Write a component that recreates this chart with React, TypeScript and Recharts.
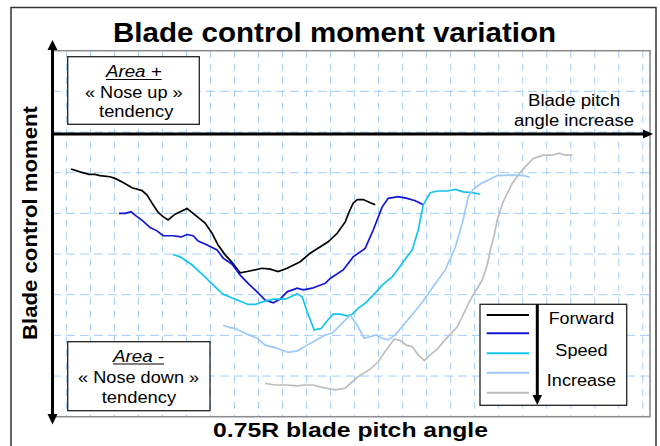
import { LineChart, Line, XAxis, YAxis, CartesianGrid } from 'recharts';

// curves: pitch in grid steps, moment in grid rows (0 = pitch axis)
const pitchV1 = [1.38, 2.13, 2.88, 3.38, 3.8, 4.63, 5.05, 5.72, 6.47, 7.3, 7.72, 8.22, 8.63, 9.05, 9.47, 10.05, 11.05, 11.55, 12.55, 13.13, 13.63, 14.22, 14.63, 15.47, 16.05, 17.3, 17.97, 18.63, 19.38, 20.47, 21.3, 22.8, 23.55, 24.22, 24.55, 24.88, 25.22, 25.72, 26.3, 26.72];
const momentV1 = [-0.91, -0.98, -1.04, -1.04, -1.07, -1.1, -1.14, -1.24, -1.37, -1.44, -1.55, -1.79, -1.97, -2.08, -2.16, -2.02, -1.88, -2.0, -2.24, -2.49, -2.78, -3.02, -3.15, -3.46, -3.43, -3.35, -3.37, -3.43, -3.35, -3.19, -2.98, -2.7, -2.49, -2.21, -1.96, -1.75, -1.66, -1.66, -1.74, -1.79];

const pitchV2 = [5.38, 5.88, 6.38, 6.8, 7.38, 7.97, 8.55, 9.05, 9.88, 10.55, 11.05, 11.55, 11.97, 12.72, 13.55, 14.05, 14.8, 15.47, 16.13, 16.88, 17.55, 18.22, 18.8, 19.38, 20.22, 20.72, 21.47, 22.55, 22.97, 24.05, 24.88, 25.88, 26.55, 27.3, 27.8, 28.63, 29.38, 30.05, 30.72];
const momentV2 = [-2.0, -2.0, -1.96, -2.06, -2.19, -2.35, -2.43, -2.55, -2.55, -2.58, -2.52, -2.55, -2.68, -2.78, -2.9, -3.1, -3.25, -3.52, -3.72, -3.93, -4.13, -4.2, -4.11, -3.93, -3.84, -3.88, -3.84, -3.72, -3.6, -3.39, -3.07, -2.86, -2.41, -1.84, -1.63, -1.59, -1.63, -1.69, -1.79];

const pitchV3 = [9.88, 10.47, 11.47, 12.38, 13.22, 14.05, 15.22, 16.13, 16.72, 17.38, 18.22, 19.22, 20.22, 20.63, 21.05, 21.63, 22.22, 22.72, 23.22, 23.8, 24.38, 24.8, 25.3, 25.88, 26.55, 27.38, 28.13, 28.63, 29.22, 29.8, 30.3, 30.72, 31.3, 31.88, 32.72, 33.38, 34.05, 34.8, 35.47];
const momentV3 = [-3.01, -3.07, -3.27, -3.52, -3.76, -3.99, -4.13, -4.24, -4.24, -4.17, -4.11, -4.11, -3.98, -4.05, -4.42, -4.87, -4.83, -4.64, -4.48, -4.48, -4.52, -4.48, -4.33, -4.21, -4.01, -3.74, -3.56, -3.37, -3.12, -2.9, -2.41, -1.79, -1.49, -1.45, -1.45, -1.41, -1.47, -1.49, -1.53];

const pitchV4 = [14.05, 14.63, 15.05, 16.05, 16.88, 17.55, 18.38, 19.47, 20.22, 21.05, 21.88, 22.55, 23.13, 23.8, 24.63, 25.22, 25.8, 26.3, 26.8, 27.3, 27.8, 28.38, 29.05, 29.88, 30.72, 31.55, 32.55, 33.38, 33.97, 34.47, 34.88, 35.47, 36.05, 36.88, 38.22, 39.05, 39.55];
const momentV4 = [-4.75, -4.81, -4.83, -4.97, -5.07, -5.24, -5.3, -5.42, -5.38, -5.24, -5.1, -4.99, -4.95, -4.75, -4.5, -4.75, -5.07, -5.03, -4.99, -5.07, -5.11, -4.99, -4.75, -4.46, -4.15, -3.8, -3.39, -2.84, -2.24, -1.59, -1.41, -1.28, -1.19, -1.07, -1.06, -1.07, -1.11];

const pitchV5 = [17.55, 18.38, 19.38, 20.22, 20.88, 21.55, 22.47, 23.38, 24.22, 25.22, 26.3, 26.97, 27.72, 28.3, 28.8, 29.3, 29.8, 30.3, 30.8, 31.3, 31.88, 32.38, 33.55, 34.63, 35.63, 36.05, 36.3, 36.63, 36.88, 37.38, 38.13, 38.97, 39.88, 40.72, 41.47, 42.05, 42.55, 43.13];
const momentV5 = [-6.18, -6.22, -6.22, -6.24, -6.22, -6.22, -6.29, -6.34, -6.3, -6.03, -5.83, -5.65, -5.32, -5.09, -5.13, -5.24, -5.28, -5.48, -5.62, -5.48, -5.34, -5.16, -4.79, -4.13, -3.64, -3.27, -2.9, -2.53, -2.16, -1.71, -1.26, -0.93, -0.65, -0.57, -0.57, -0.52, -0.57, -0.57];

const seriesColors = ['#000000', '#1414d4', '#14c4f0', '#9ccaf8', '#bdbdbd'];
const legendWords = ['Forward', 'Speed', 'Increase'];

const xTicks = Array.from({ length: 50 }, (_, i) => i);
const yTicks = [-7, -6, -5, -4, -3, -2, -1, 0, 1, 2];

const FONT = '"Liberation Sans", Arial, sans-serif';

function zip(p: number[], m: number[]) {
  return p.map((x, i) => ({ pitch: x, moment: m[i] }));
}

const series = [
  zip(pitchV1, momentV1),
  zip(pitchV2, momentV2),
  zip(pitchV3, momentV3),
  zip(pitchV4, momentV4),
  zip(pitchV5, momentV5),
];

function Overlay() {
  const legendY = [315, 333.3, 353.3, 372.7, 392.7];
  const wordY = [324.3, 355.5, 385.7];
  const wordLen = [65.7, 52.3, 69.3];
  return (
    <svg
      width={660}
      height={446}
      style={{ position: 'absolute', left: 0, top: 0, pointerEvents: 'none' }}
      fontFamily={FONT}
    >
      <rect x={11} y={7.5} width={645} height={450} fill="none" stroke="#333" strokeWidth={1.5} />
      <text x={334.5} y={41.5} textAnchor="middle" fontSize={28} fontWeight="bold" textLength={443} lengthAdjust="spacingAndGlyphs">
        Blade control moment variation
      </text>
      <rect x={52} y={50.7} width={598} height={366} fill="none" stroke="#8c8c8c" strokeWidth={1.5} />

      {/* axes arrows */}
      <line x1={52.5} y1={48} x2={52.5} y2={416} stroke="#000" strokeWidth={3} />
      <polygon points="52.5,40 47.5,50 57.5,50" fill="#000" />
      <polygon points="52.5,424.5 47.5,414 57.5,414" fill="#000" />
      <line x1={52} y1={134} x2={645} y2={134} stroke="#000" strokeWidth={3} />
      <polygon points="653,134 643,129.5 643,138.5" fill="#000" />

      <text transform="translate(36.5,223) rotate(-90)" textAnchor="middle" fontSize={21} fontWeight="bold" textLength={234} lengthAdjust="spacingAndGlyphs">
        Blade control moment
      </text>
      <text x={350.5} y={436.7} textAnchor="middle" fontSize={21} fontWeight="bold" textLength={275} lengthAdjust="spacingAndGlyphs">
        0.75R blade pitch angle
      </text>

      <text x={574} y={106} textAnchor="middle" fontSize={16} textLength={92} lengthAdjust="spacingAndGlyphs">Blade pitch</text>
      <text x={574} y={125.7} textAnchor="middle" fontSize={16} textLength={120} lengthAdjust="spacingAndGlyphs">angle increase</text>

      {/* area + */}
      <rect x={67.7} y={56.7} width={131.6} height={67.6} fill="#fff" stroke="#222" strokeWidth={1.3} />
      <text x={133.8} y={77.3} textAnchor="middle" fontSize={16} fontStyle="italic" textLength={55.7} lengthAdjust="spacingAndGlyphs">Area +</text>
      <line x1={106} y1={79.5} x2={161.7} y2={79.5} stroke="#000" strokeWidth={1} />
      <text x={133.8} y={97.7} textAnchor="middle" fontSize={16} textLength={97.7} lengthAdjust="spacingAndGlyphs">« Nose up »</text>
      <text x={136.2} y={117.3} textAnchor="middle" fontSize={16} textLength={74.3} lengthAdjust="spacingAndGlyphs">tendency</text>

      {/* area - */}
      <rect x={67.7} y={341.7} width={142.3} height={69} fill="#fff" stroke="#222" strokeWidth={1.3} />
      <text x={138.5} y={361.7} textAnchor="middle" fontSize={16} fontStyle="italic" textLength={51} lengthAdjust="spacingAndGlyphs">Area -</text>
      <line x1={113} y1={364} x2={164} y2={364} stroke="#000" strokeWidth={1} />
      <text x={138.6} y={383} textAnchor="middle" fontSize={16} textLength={121} lengthAdjust="spacingAndGlyphs">« Nose down »</text>
      <text x={138.9} y={402.7} textAnchor="middle" fontSize={16} textLength={74.3} lengthAdjust="spacingAndGlyphs">tendency</text>

      {/* legend */}
      <rect x={480} y={304.3} width={146.7} height={101} fill="#fff" stroke="#222" strokeWidth={1.3} />
      {seriesColors.map((c, i) => (
        <line key={c} x1={486.7} y1={legendY[i]} x2={529} y2={legendY[i]} stroke={c} strokeWidth={2} />
      ))}
      <line x1={537.3} y1={304.3} x2={537.3} y2={397} stroke="#000" strokeWidth={3} />
      <polygon points="537.3,405 532.5,395 542,395" fill="#000" />
      {legendWords.map((w, i) => (
        <text key={w} x={581.5} y={wordY[i]} textAnchor="middle" fontSize={16} textLength={wordLen[i]} lengthAdjust="spacingAndGlyphs">
          {w}
        </text>
      ))}
    </svg>
  );
}

export default function App() {
  return (
    <div style={{ position: 'absolute', left: 0, top: 0, width: 660, height: 446, background: '#fff' }}>
      <LineChart width={660} height={446} margin={{ top: 50.7, right: 10, bottom: 29.3, left: 52 }}>
        <CartesianGrid horizontal={false} stroke="#a3cdf7" strokeDasharray="7 6" />
        <CartesianGrid vertical={false} stroke="#a3cdf7" strokeDasharray="9 5" />
        <XAxis type="number" dataKey="pitch" domain={[-0.2, 49.6]} ticks={xTicks} allowDataOverflow hide />
        <YAxis type="number" domain={[-7, 2]} ticks={yTicks} allowDataOverflow hide />
        {series.map((d, i) => (
          <Line
            key={i}
            data={d}
            dataKey="moment"
            type="linear"
            stroke={seriesColors[i]}
            strokeWidth={1.7}
            dot={false}
            isAnimationActive={false}
          />
        ))}
      </LineChart>
      <Overlay />
    </div>
  );
}
